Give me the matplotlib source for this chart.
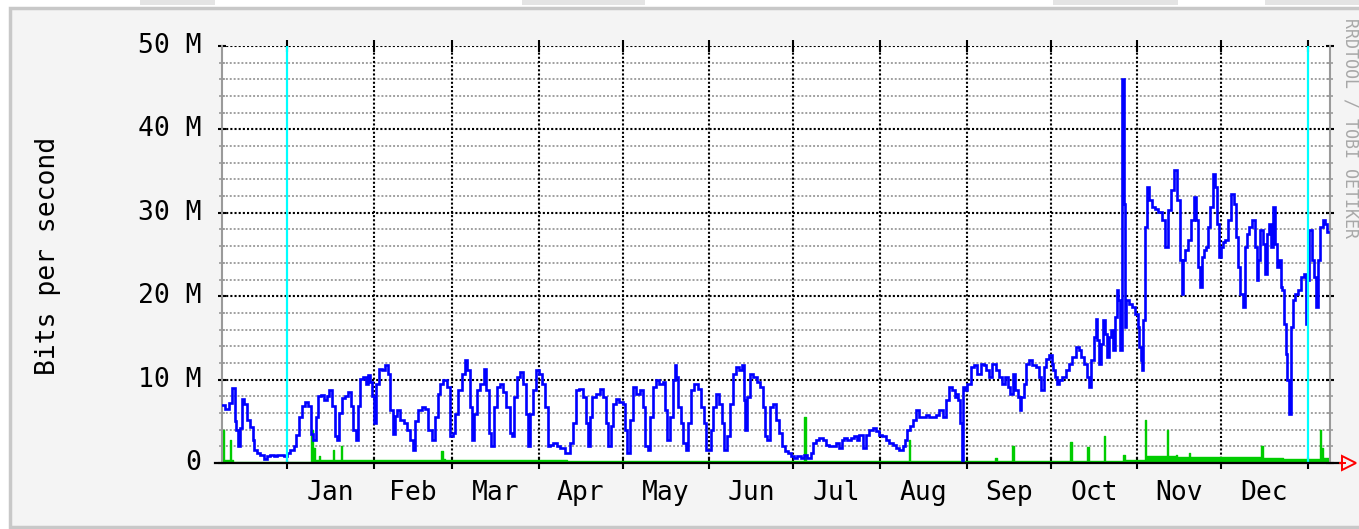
import matplotlib
matplotlib.use("Agg")
import matplotlib.pyplot as plt
import matplotlib.transforms as mtransforms
from matplotlib.patches import Rectangle

# ---------------- data (days since 1 Jan, Mbit/s) ----------------
months = ["Jan", "Feb", "Mar", "Apr", "May", "Jun",
          "Jul", "Aug", "Sep", "Oct", "Nov", "Dec"]
month_starts = [0, 31, 59, 90, 120, 151, 181, 212, 243, 273, 304, 334, 365]
year_marks = [0, 365]
y_ticks = [0, 10, 20, 30, 40, 50]
y_labels = ["0", "10 M", "20 M", "30 M", "40 M", "50 M"]

blue_days = [
    -23.2, -21.4, -20.2, -19.0, -18.4, -17.8, -17.2, -16.6, -15.5, -14.9,
    -13.7, -12.5, -11.9, -11.3, -10.1, -8.9, -7.7, -6.5, -5.3, -4.1,
    -2.9, -1.7, -0.5, 0.6, 1.8, 3.0, 3.6, 4.8, 6.0, 7.2,
    8.0, 9.0, 9.9, 10.8, 11.6, 12.6, 13.8, 14.7, 15.5, 16.7,
    17.6, 18.5, 19.1, 20.3, 21.5, 22.3, 23.3, 24.2, 25.1, 25.7,
    26.6, 27.5, 28.7, 29.3, 30.2, 31.0, 31.6, 32.2, 33.4, 34.6,
    35.8, 36.4, 37.4, 38.2, 38.8, 40.0, 41.2,
    42.2, 43.4, 44.6, 45.5, 46.4, 47.6, 48.8, 50.0, 51.1, 52.3,
    53.5, 54.4, 55.3, 56.5, 57.7, 58.9, 59.8, 60.7, 61.9, 63.1,
    63.9, 64.9, 65.8, 66.6, 67.5, 68.4, 69.9, 70.8, 71.8, 72.6,
    73.4, 74.4, 75.6, 76.8, 77.9, 79.1, 80.1, 80.9, 81.8, 82.7,
    83.9, 84.9, 85.7, 86.5, 87.5, 88.7, 89.6, 90.5, 91.7, 92.9,
    93.7, 94.7, 95.8, 97.0, 98.2, 100.6, 101.8, 102.8, 103.9, 105.1,
    106.3, 107.2, 108.0,
    108.8, 109.7, 111.2, 112.4, 113.6, 114.5, 115.3, 116.2, 117.1, 118.3,
    119.5, 120.5, 121.3, 122.1, 123.1, 124.3, 125.5, 126.7, 127.6, 128.5,
    129.4, 130.3, 131.4, 132.6, 133.8, 134.8, 135.6, 136.4, 137.4, 138.4,
    138.9, 139.5, 140.4, 141.2, 142.2, 143.1, 143.9, 145.1, 146.3, 147.5,
    148.7, 149.6, 150.3, 151.1, 151.9, 152.9, 154.1, 155.0, 155.9, 156.7,
    157.7, 158.9, 159.8, 161.0, 162.2, 163.0, 163.6, 164.2, 165.1, 166.2,
    167.4, 168.6, 169.6, 170.5, 171.4, 172.2, 173.2,
    174.2, 175.4, 176.6, 177.5, 178.4, 179.6, 180.7, 181.9, 183.1, 184.3,
    185.5, 186.7, 187.9, 188.5, 189.7, 190.9, 192.1, 193.3, 194.5, 195.6,
    196.8, 198.0, 198.6, 199.8, 201.0, 202.2, 203.4, 204.2, 205.2, 206.4,
    207.6, 208.8, 210.0, 211.1, 212.3, 213.5, 214.7, 215.9, 217.1, 218.3,
    219.5, 220.7, 221.3, 222.1, 223.1, 224.3, 225.4, 226.6, 227.8, 229.0,
    230.2, 231.4, 232.6, 233.8, 235.0, 236.2, 237.4, 238.3, 239.2, 239.8,
    240.3, 240.9, 241.5, 242.1, 242.7, 243.9, 245.1, 246.2, 247.4, 248.6,
    249.8, 250.4, 251.6, 252.8, 254.0, 255.2, 256.4, 257.3, 258.2, 259.0,
    260.0, 260.9, 261.7, 262.3, 262.9, 263.8, 264.7, 265.9, 267.1, 268.3,
    269.3, 270.1, 270.9, 271.9, 273.1, 273.7, 274.3, 274.9, 275.7, 276.6,
    277.8, 279.0, 280.2, 281.4, 282.6, 283.6, 284.4, 285.6, 286.4, 287.1,
    288.0, 288.8, 289.5, 290.0, 290.7, 291.3, 291.9, 292.7, 293.6, 294.3,
    295.1, 295.7, 296.3, 296.9, 297.5, 298.1,
    299.0, 299.6, 299.9, 300.4, 301.4, 302.6, 303.8, 304.4, 305.0, 305.5,
    305.9, 306.4, 307.1, 307.9, 308.5, 309.7, 310.9, 312.1, 313.3, 314.5,
    315.4, 316.6, 317.8, 318.7, 319.5, 320.2, 320.7, 321.6, 322.8, 323.8,
    324.6, 325.5, 326.2, 326.6, 327.4, 328.2, 329.0, 329.7, 330.6, 331.4,
    332.1, 333.0, 333.6, 334.2, 335.0, 336.0, 337.1, 338.1, 338.9, 339.8,
    340.5, 341.3, 342.1, 342.9, 343.7, 344.5, 345.5, 346.4, 347.0, 347.6,
    348.5, 349.1, 350.0, 350.8, 351.4, 352.0, 352.9, 353.6, 354.4, 355.0,
    355.6, 356.2, 356.8, 357.4, 358.0, 358.6, 359.2, 359.8, 361.0, 362.2,
    363.1, 364.0, 364.6, 365.1, 366.0, 366.7, 367.5, 368.4, 369.1, 369.9,
    370.8, 371.5, 372.3,
]
blue_mbps = [
    7.0, 6.5, 7.2, 9.0, 5.0, 4.0, 2.0, 4.2, 7.7, 7.1,
    5.1, 4.3, 2.7, 1.5, 1.2, 1.0, 0.5, 0.8, 1.0, 0.8,
    1.0, 0.9, 0.8, 1.2, 1.6, 2.0, 3.4, 5.5, 6.8, 7.3,
    6.8, 3.5, 2.8, 5.5, 8.0, 8.1, 7.6, 8.0, 8.7, 6.8,
    3.2, 2.8, 6.0, 7.8, 8.0, 8.5, 6.8, 4.0, 2.8, 6.8,
    10.1, 10.3, 9.5, 10.5, 9.7, 8.0, 4.8, 9.5, 11.3, 11.1,
    11.7, 10.7, 6.4, 3.5, 5.6, 6.4, 5.2,
    4.75, 4.0, 2.8, 1.6, 5.0, 6.3, 6.7, 6.5, 4.0, 2.8,
    5.5, 8.3, 9.5, 9.9, 9.1, 3.2, 3.6, 5.9, 8.7, 10.7,
    12.3, 11.1, 6.7, 2.8, 5.9, 8.7, 9.5, 11.3, 8.7, 3.6,
    2.0, 6.7, 9.1, 9.5, 8.5, 6.7, 3.6, 3.2, 7.9, 10.3,
    10.9, 9.5, 5.9, 2.0, 5.9, 8.7, 11.1, 10.7, 9.5, 6.7,
    2.0, 2.2, 2.4, 2.0, 1.8, 1.2, 2.4, 4.75, 8.7, 8.9,
    7.9, 4.75, 2.0,
    5.5, 7.9, 8.3, 8.9, 7.9, 4.75, 2.0, 4.4, 7.1, 7.7,
    7.3, 7.1, 4.0, 1.2, 5.1, 9.1, 8.3, 8.7, 6.7, 2.0,
    1.6, 5.5, 9.1, 9.9, 9.5, 9.7, 6.3, 2.8, 5.5, 9.9,
    11.7, 10.3, 6.7, 4.75, 2.4, 1.6, 4.75, 8.7, 9.5, 8.9,
    6.7, 4.75, 1.6, 1.6, 4.0, 6.7, 8.3, 7.1, 4.75, 1.6,
    3.2, 7.1, 10.7, 11.5, 11.1, 11.7, 7.5, 4.0, 7.9, 10.7,
    10.3, 9.7, 9.1, 6.7, 3.2, 2.8, 6.7,
    7.1, 5.1, 3.6, 2.0, 1.4, 1.2, 0.8, 0.6, 0.8, 0.6,
    1.0, 0.6, 1.2, 2.4, 2.8, 3.0, 2.8, 2.2, 2.0, 2.0,
    2.4, 1.8, 2.8, 3.0, 2.8, 3.0, 3.2, 2.8, 3.4, 1.8,
    3.4, 4.0, 4.2, 3.8, 3.4, 3.2, 2.8, 2.4, 2.2, 1.8,
    1.6, 2.0, 2.8, 4.0, 4.4, 5.1, 6.3, 5.5, 5.5, 5.7,
    5.5, 5.5, 5.7, 6.3, 5.5, 7.5, 9.1, 8.7, 7.9, 8.3,
    7.5, 4.75, 0.0, 9.1, 8.7, 9.5, 11.5, 11.7, 10.7, 11.9,
    11.7, 11.1, 10.3, 11.9, 11.1, 10.3, 9.5, 10.3, 9.1, 8.3,
    10.7, 8.7, 7.9, 6.3, 7.9, 9.5, 11.9, 12.3, 11.7, 11.5,
    10.3, 8.7, 11.5, 12.5, 12.9, 11.9, 11.1, 10.3, 9.5, 9.9,
    10.3, 11.1, 11.9, 12.7, 13.9, 13.5, 12.7, 11.9, 10.3, 9.1,
    12.3, 15.1, 17.3, 14.7, 11.9, 14.3, 17.1, 15.5, 12.7, 15.1,
    15.9, 13.5, 17.5, 20.7, 19.5, 13.5,
    46.1, 31.1, 16.3, 19.5, 19.1, 18.7, 17.9, 16.3, 13.9, 12.3,
    11.2, 17.1, 28.3, 33.1, 31.5, 30.7, 30.5, 30.1, 29.1, 25.9,
    30.3, 32.7, 35.1, 31.5, 24.3, 20.3, 24.3, 25.5, 26.7, 29.1,
    31.9, 29.1, 23.5, 21.1, 24.7, 25.5, 25.9, 28.3, 30.7, 34.7,
    33.1, 28.7, 24.7, 25.9, 26.5, 26.7, 29.1, 32.3, 31.1, 27.1,
    23.5, 20.3, 18.7, 25.9, 27.5, 28.3, 29.1, 25.9, 21.9, 24.3,
    27.9, 26.3, 22.7, 27.5, 28.7, 25.9, 30.7, 26.3, 23.5, 24.3,
    21.1, 20.7, 16.7, 13.1, 9.9, 5.9, 16.3, 19.5, 20.3, 20.7,
    22.3, 22.7, 16.7, 21.9, 27.9, 24.3, 22.3, 18.7, 24.3, 28.3,
    29.1, 28.7, 27.7,
]

green_days = [-23.2, -22.6, -20.4, -20.0, -19.2, 8.6, 9.4, 10.2, 11.4, 11.8,
              16.6, 17.0, 19.4, 19.8, 40.0, 55.0, 55.8, 56.6, 100.0, 184.8,
              185.4, 222.4, 222.9, 253.3, 253.8, 259.3, 259.8, 280.1, 280.6,
              286.1, 286.6, 292.0, 292.5, 299.0, 299.5, 304.0, 306.6, 307.1,
              314.6, 315.1, 317.7, 318.2, 322.5, 323.0, 348.4, 348.9, 356.0,
              369.2, 369.8, 370.4, 373.2]
green_mbps = [4.0, 0.3, 2.8, 0.3, 0.15, 4.0, 1.8, 0.4, 0.8, 0.4,
              1.6, 0.4, 2.0, 0.4, 0.3, 1.4, 0.5, 0.3, 0.2, 5.5,
              0.2, 2.8, 0.2, 0.6, 0.2, 2.0, 0.2, 2.5, 0.2,
              1.9, 0.2, 3.2, 0.2, 1.0, 0.3, 0.3, 5.2, 0.8,
              4.0, 0.8, 1.0, 0.7, 1.2, 0.7, 2.0, 0.6, 0.5,
              4.0, 1.8, 0.6, 0.5]

# ---------------- layout ----------------
W, H = 1359, 529
X0, X1, Y0, Y1 = 222, 1330, 46, 463  # plot area in pixels
DAY0, DAY1 = -23.2, 372.9
MONO = "DejaVu Sans Mono"

fig = plt.figure(figsize=(W / 100, H / 100), dpi=100, facecolor="white")

# faint boxes at very top edge
for bx0, bx1 in [(140, 215), (522, 645), (1053, 1178), (1265, 1359)]:
    fig.patches.append(Rectangle((bx0 / W, 1 - 5 / H), (bx1 - bx0) / W, 5 / H,
                                 transform=fig.transFigure, facecolor="#e4e4e4",
                                 edgecolor="none", zorder=-2))
# outer panel
fig.patches.append(Rectangle((10 / W, 2 / H), (W - 8) / W, (H - 10) / H,
                             transform=fig.transFigure, facecolor="#f4f4f4",
                             edgecolor="#c8c8c8", lw=2.5, zorder=-2))

ax = fig.add_axes([X0 / W, 1 - Y1 / H, (X1 - X0) / W, (Y1 - Y0) / H])
ax.set_zorder(1)
ax.set_facecolor("white")
ax.set_xlim(DAY0, DAY1)
ax.set_ylim(0, 50)

dot = (0, (1, 1))
# horizontal grid
for v in range(2, 50, 2):
    if v % 10:
        ax.axhline(v, color="#a0a0a0", ls=dot, lw=1.4, zorder=1)
for v in y_ticks[1:]:
    ax.axhline(v, color="black", ls=dot, lw=1.5, zorder=1.5)
# vertical month grid
for d in month_starts[1:-1]:
    ax.axvline(d, color="black", ls=dot, lw=1.5, zorder=1.5)

# data
ax.fill_between(green_days, 0, green_mbps, step="post", color="#00cc00",
                lw=0, zorder=2)
ax.step(green_days, green_mbps, where="post", color="#00cc00", lw=1.0, zorder=2)
ax.plot(blue_days, blue_mbps, color="#0000ff", lw=1.9, zorder=3,
        drawstyle="steps-mid", solid_joinstyle="miter")

# year rules
for d in year_marks:
    ax.axvline(d, color="#00ffff", lw=1.6, zorder=4)

# spines
for s in ["top", "bottom"]:
    ax.spines[s].set_visible(False)
for s in ["left", "right"]:
    ax.spines[s].set_color("#9a9a9a")
    ax.spines[s].set_linewidth(1.5)

# bottom axis line (extends beyond plot) + red arrow
fx = lambda px: (px - X0) / (X1 - X0)
ax.plot([fx(215), fx(1341)], [0, 0], color="black", lw=1.6,
        transform=ax.transAxes, clip_on=False, zorder=5)
ax.plot([fx(1340), fx(1345)], [0, 0], color="red", lw=1.4,
        transform=ax.transAxes, clip_on=False, zorder=5)
ax.plot([fx(1349)], [0], marker=">", ms=10, mfc="none", mec="red", mew=1.4,
        transform=ax.transAxes, clip_on=False, zorder=5)

# ticks
ax.set_yticks(y_ticks)
ax.set_yticklabels([])
ax.set_yticks(range(0, 51, 2), minor=True)
ax.tick_params(axis="y", which="major", left=True, right=True, direction="inout",
               length=6, width=1.5, color="black")
ax.tick_params(axis="y", which="minor", left=True, right=True, direction="inout",
               length=4, width=1.2, color="#9a9a9a")
ax.set_xticks(month_starts)
ax.set_xticklabels([])
ax.tick_params(axis="x", which="major", top=True, bottom=True, direction="inout",
               length=8, width=1.5, color="black")
ax.tick_params(axis="x", which="minor", bottom=False, top=False)

ytrans = mtransforms.blended_transform_factory(ax.transAxes, ax.transData)
for v, lab in zip(y_ticks, y_labels):
    ax.text(fx(201), v, lab, transform=ytrans, ha="right", va="center",
            fontsize=19, family=MONO, color="black")

xtrans = mtransforms.blended_transform_factory(ax.transData, ax.transAxes)
for i, m in enumerate(months):
    mid = (month_starts[i] + month_starts[i + 1]) / 2
    ax.text(mid, -30 / (Y1 - Y0), m, transform=xtrans, ha="center", va="center",
            fontsize=19, family=MONO, color="black")

fig.text(48 / W, 1 - 256 / H, "Bits per second", rotation=90, ha="center",
         va="center", fontsize=19, family=MONO, color="black")
fig.text(1351 / W, 1 - 18 / H, "RRDTOOL / TOBI OETIKER", rotation=270,
         ha="center", va="top", fontsize=12, family=MONO, color="#a8a8a8")

fig.savefig("out.png", dpi=100, facecolor="white")
